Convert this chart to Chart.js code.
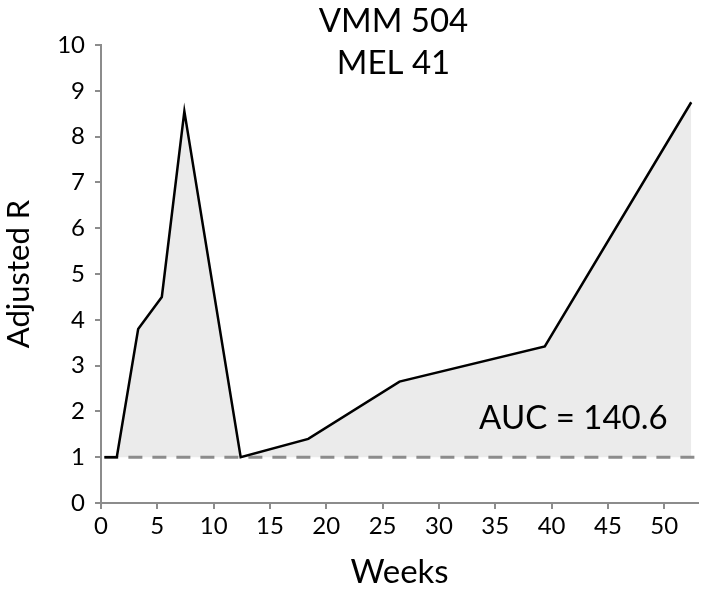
<!DOCTYPE html>
<html>
<head>
<meta charset="utf-8">
<script src="https://cdn.jsdelivr.net/npm/chart.js@4"></script>
<style>
  html, body { margin: 0; padding: 0; background: #fff; }
  #wrap { width: 708px; height: 592px; }
</style>
</head>
<body>
<div id="wrap"><canvas id="chart"></canvas></div>
<script>
// data
const weeks = [0.3, 1.4, 3.3, 5.4, 7.4, 12.4, 18.4, 26.5, 39.4, 52.4];
const adjustedR = [1.0, 1.0, 3.8, 4.5, 8.55, 1.0, 1.4, 2.65, 3.42, 8.75];
const baselineR = 1;
const baselineWeeks = [0.3, 53];
const titleLines = ['VMM 504', 'MEL 41'];
const aucLabel = 'AUC = 140.6';
const FONT = 'Lato';

const curve = weeks.map((w, i) => ({ x: w, y: adjustedR[i] }));
const baseline = baselineWeeks.map(w => ({ x: w, y: baselineR }));

// title and AUC text drawn over the plot
const textPlugin = {
    id: 'textPlugin',
    afterDraw(chart) {
        const ctx = chart.ctx;
        const area = chart.chartArea;
        const xs = chart.scales.x;
        const ys = chart.scales.y;
        ctx.save();
        ctx.fillStyle = '#000';
        ctx.textAlign = 'center';
        ctx.textBaseline = 'middle';
        ctx.font = '33px ' + FONT;
        const cx = (area.left + area.right) / 2 - 6;
        ctx.fillText(titleLines[0], cx, 21);
        ctx.fillText(titleLines[1], cx, 63);
        ctx.font = '33px ' + FONT;
        ctx.textAlign = 'right';
        ctx.fillText(aucLabel, xs.getPixelForValue(50.3), ys.getPixelForValue(1.85));
        ctx.restore();
    }
};

new Chart(document.getElementById('chart'), {
    type: 'line',
    data: {
        datasets: [
            {
                data: curve,
                borderColor: '#000',
                borderWidth: 2.5,
                backgroundColor: '#ebebeb',
                fill: { value: baselineR },
                pointRadius: 0,
                tension: 0,
                order: 1
            },
            {
                data: baseline,
                borderColor: '#8c8c8c',
                borderWidth: 3,
                borderDash: [14, 10],
                fill: false,
                pointRadius: 0,
                order: 2
            }
        ]
    },
    options: {
        responsive: true,
        maintainAspectRatio: false,
        animation: false,
        layout: { padding: { top: 45, right: 10, left: 0, bottom: 0 } },
        plugins: {
            legend: { display: false },
            tooltip: { enabled: false },
            filler: { drawTime: 'beforeDatasetsDraw' }
        },
        scales: {
            x: {
                type: 'linear',
                min: 0,
                max: 53,
                afterFit(scale) { scale.height = 89; },
                ticks: {
                    stepSize: 5,
                    includeBounds: false,
                    color: '#000',
                    padding: 3,
                    font: { family: FONT, size: 24 }
                },
                grid: { drawOnChartArea: false, drawTicks: true, tickLength: 6, color: '#8c8c8c', lineWidth: 2 },
                border: { color: '#8c8c8c', width: 2 },
                title: {
                    display: true,
                    text: 'Weeks',
                    color: '#000',
                    padding: { top: 0, bottom: 0 },
                    font: { family: FONT, size: 33 }
                }
            },
            y: {
                min: 0,
                max: 10,
                afterFit(scale) { scale.width = 101; },
                ticks: {
                    stepSize: 1,
                    color: '#000',
                    padding: 10,
                    font: { family: FONT, size: 24 }
                },
                grid: { drawOnChartArea: false, drawTicks: true, tickLength: 6, color: '#8c8c8c', lineWidth: 2 },
                border: { color: '#8c8c8c', width: 2 },
                title: {
                    display: true,
                    text: 'Adjusted R',
                    color: '#000',
                    padding: { top: 0, bottom: 6 },
                    font: { family: FONT, size: 31 }
                }
            }
        }
    },
    plugins: [textPlugin]
});
</script>
</body>
</html>
